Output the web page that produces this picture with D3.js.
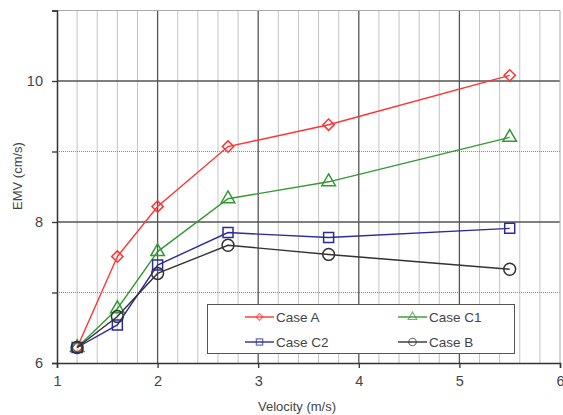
<!DOCTYPE html>
<html>
  <head>
    <meta charset="utf-8">
    <title>EMV vs velocity</title>
    <script src="https://cdn.jsdelivr.net/npm/d3@7"></script>
    <style>
      body { margin: 0; background: #fff; }
      text { font-family: "Liberation Sans", Arial, sans-serif; fill: #444; }
    </style>
  </head>
  <body>
    <svg id="chart" width="563" height="415"></svg>

    <script>
      // data
      const velocity = [1.2, 1.6, 2.0, 2.7, 3.7, 5.5];
      const caseA = [6.22, 7.51, 8.22, 9.07, 9.38, 10.08];
      const caseC1 = [6.22, 6.77, 7.58, 8.33, 8.57, 9.2];
      const caseC2 = [6.22, 6.54, 7.39, 7.85, 7.78, 7.91];
      const caseB = [6.22, 6.66, 7.27, 7.67, 7.54, 7.33];
      const seriesNames = ["Case A", "Case C1", "Case C2", "Case B"];
      const xTicks = [1, 2, 3, 4, 5, 6];
      const yTicks = [6, 8, 10];

      const series = [
        { values: caseA, color: "#ff3333", shape: "diamond" },
        { values: caseC1, color: "#339933", shape: "triangle" },
        { values: caseC2, color: "#2b2b99", shape: "square" },
        { values: caseB, color: "#333333", shape: "circle" }
      ];

      const svg = d3.select("#chart");
      const pLeft = 57, pRight = 560, pTop = 10.5, pBottom = 363;

      const x = d3.scaleLinear().domain([1, 6]).range([pLeft, pRight]);
      const y = d3.scaleLinear().domain([6, 11]).range([pBottom, pTop]);

      // grid
      const grid = svg.append("g");
      const minorX = d3.range(1.2, 6, 0.2).filter(function(v) {
        return Math.abs(v - Math.round(v)) > 0.01;
      });
      grid.selectAll(".mx")
        .data(minorX)
      .enter().append("line")
        .attr("x1", function(d) { return x(d); })
        .attr("x2", function(d) { return x(d); })
        .attr("y1", pTop).attr("y2", pBottom)
        .attr("stroke", "#888").attr("stroke-width", 1)
        .attr("stroke-dasharray", "1,1");
      grid.selectAll(".my")
        .data([7, 9])
      .enter().append("line")
        .attr("x1", pLeft).attr("x2", pRight)
        .attr("y1", function(d) { return y(d); })
        .attr("y2", function(d) { return y(d); })
        .attr("stroke", "#888").attr("stroke-width", 1)
        .attr("stroke-dasharray", "1,1");
      grid.selectAll(".Mx")
        .data([2, 3, 4, 5])
      .enter().append("line")
        .attr("x1", function(d) { return x(d); })
        .attr("x2", function(d) { return x(d); })
        .attr("y1", pTop).attr("y2", pBottom)
        .attr("stroke", "#555").attr("stroke-width", 1.3);
      grid.selectAll(".My")
        .data([8, 10])
      .enter().append("line")
        .attr("x1", pLeft).attr("x2", pRight)
        .attr("y1", function(d) { return y(d); })
        .attr("y2", function(d) { return y(d); })
        .attr("stroke", "#555").attr("stroke-width", 1.3);

      // frame: light top/right, dark left/bottom
      svg.append("line")
        .attr("x1", pLeft).attr("x2", pRight).attr("y1", pTop).attr("y2", pTop)
        .attr("stroke", "#aaa");
      svg.append("line")
        .attr("x1", pRight).attr("x2", pRight).attr("y1", pTop).attr("y2", pBottom)
        .attr("stroke", "#aaa");

      svg.append("g")
        .attr("transform", "translate(0," + pBottom + ")")
        .call(d3.axisBottom(x).tickValues(xTicks).tickSize(5).tickPadding(8)
          .tickFormat(d3.format("d")));
      svg.append("g")
        .attr("transform", "translate(" + pLeft + ",0)")
        .call(d3.axisLeft(y).tickValues([6, 7, 8, 9, 10, 11]).tickSize(5).tickPadding(9)
          .tickFormat(function(d) { return yTicks.indexOf(d) >= 0 ? d : ""; }));
      svg.selectAll(".domain").attr("stroke", "#333").attr("stroke-width", 1.5);
      svg.selectAll(".tick line").attr("stroke", "#333").attr("stroke-width", 1.3);
      svg.selectAll(".tick text")
        .style("font-family", "Liberation Sans, Arial, sans-serif")
        .style("font-size", "14.5px").attr("fill", "#555");

      // axis titles
      svg.append("text")
        .attr("x", 297).attr("y", 411)
        .attr("text-anchor", "middle")
        .style("font-size", "13px")
        .text("Velocity (m/s)");
      svg.append("text")
        .attr("transform", "translate(22,176) rotate(-90)")
        .attr("text-anchor", "middle")
        .style("font-size", "13px")
        .text("EMV (cm/s)");

      // markers
      function marker(shape, size) {
        if (shape == "diamond") return d3.symbol().type(d3.symbolSquare).size(size)();
        if (shape == "triangle") return d3.symbol().type(d3.symbolTriangle).size(size * 0.8)();
        if (shape == "square") return d3.symbol().type(d3.symbolSquare).size(size)();
        return d3.symbol().type(d3.symbolCircle).size(size * 1.1)();
      }

      const line = d3.line()
        .x(function(d, i) { return x(velocity[i]); })
        .y(function(d) { return y(d); });

      series.forEach(function(s) {
        const g = svg.append("g");
        g.append("path")
          .datum(s.values)
          .attr("d", line)
          .attr("fill", "none")
          .attr("stroke", s.color)
          .attr("stroke-width", 1.4);
        g.selectAll(".pt")
          .data(s.values)
        .enter().append("path")
          .attr("transform", function(d, i) {
            return "translate(" + x(velocity[i]) + "," + y(d) + ")" +
              (s.shape == "diamond" ? " rotate(45)" : "");
          })
          .attr("d", marker(s.shape, s.shape == "diamond" ? 64 : 100))
          .attr("fill", "none")
          .attr("stroke", s.color)
          .attr("stroke-width", 1.5);
      });

      // legend
      const legend = svg.append("g");
      legend.append("rect")
        .attr("x", 207.5).attr("y", 304.5)
        .attr("width", 307).attr("height", 49)
        .attr("fill", "#fff").attr("stroke", "#555").attr("stroke-width", 1);
      const legendPos = [[245, 317], [398, 317], [245, 342], [398, 342]];
      series.forEach(function(s, i) {
        const lx = legendPos[i][0], ly = legendPos[i][1];
        legend.append("line")
          .attr("x1", lx).attr("x2", lx + 29)
          .attr("y1", ly).attr("y2", ly)
          .attr("stroke", s.color).attr("stroke-width", 1.4);
        legend.append("path")
          .attr("transform", "translate(" + (lx + 14.5) + "," + ly + ")" +
            (s.shape == "diamond" ? " rotate(45)" : ""))
          .attr("d", marker(s.shape, s.shape == "diamond" ? 24 : 40))
          .attr("fill", "none")
          .attr("stroke", s.color).attr("stroke-opacity", 0.7)
          .attr("stroke-width", 1.2);
        legend.append("text")
          .attr("x", lx + 31).attr("y", ly + 5)
          .style("font-size", "13.5px")
          .attr("fill", "#333")
          .text(seriesNames[i]);
      });
    </script>
  </body>
</html>
